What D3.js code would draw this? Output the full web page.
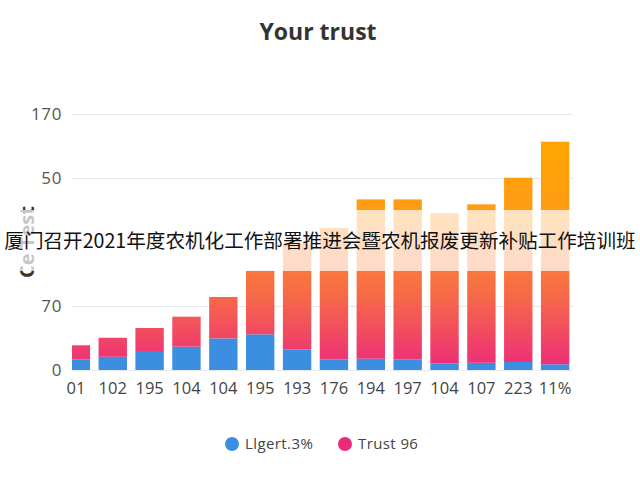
<!DOCTYPE html>
<html>
<head>
<meta charset="utf-8">
<script src="https://cdn.jsdelivr.net/npm/d3@7"></script>
<style>
  body { margin: 0; background: #fff; }
  svg { display: block; }
  text { font-family: "Open Sans", "DejaVu Sans", sans-serif; }
</style>
</head>
<body>
<svg id="chart" width="640" height="480"></svg>
<script>
// data
var xLabels = ["01", "102", "195", "104", "104", "195", "193", "176", "194", "197", "104", "107", "223", "11%"];
var lightValues = [7.1, 8.8, 12.0, 15.5, 21.0, 23.7, 13.7, 7.1, 7.5, 7.1, 4.4, 4.8, 5.3, 3.8];
var trustValues = [9.3, 12.6, 15.9, 19.9, 27.5, 42.2, 70.0, 87.2, 105.8, 106.2, 99.8, 105.2, 122.4, 147.8];
var yTicks = [0, 42.5, 85, 127.5, 170];
var yTickLabels = ["0", "70", "", "50", "170"];
var seriesNames = ["Llgert.3%", "Trust 96"];

drawChart();

function drawChart() {
    var margin = {top: 114, right: 67, bottom: 110, left: 72};
    var w = 640 - margin.left - margin.right;
    var h = 480 - margin.top - margin.bottom;

    var svg = d3.select("#chart");

    // rows for the stack
    var rows = xLabels.map(function(d, i) {
        return {idx: i, light: lightValues[i], trust: trustValues[i]};
    });
    var stacked = d3.stack().keys(["light", "trust"])(rows);

    var x = d3.scaleBand()
        .domain(d3.range(xLabels.length))
        .range([58, 573])
        .paddingInner(0.23)
        .paddingOuter(0.1);

    var y = d3.scaleLinear()
        .domain([0, 170])
        .range([margin.top + h, margin.top]);

    // gradient for the trust bars, running up the whole plot
    var defs = svg.append("defs");
    var grad = defs.append("linearGradient")
        .attr("id", "trustGrad")
        .attr("gradientUnits", "userSpaceOnUse")
        .attr("x1", 0).attr("x2", 0)
        .attr("y1", y(0)).attr("y2", y(155));
    grad.append("stop").attr("offset", "0").attr("stop-color", "#ec2a7c");
    grad.append("stop").attr("offset", "0.30").attr("stop-color", "#f6664a");
    grad.append("stop").attr("offset", "0.44").attr("stop-color", "#fa7a3a");
    grad.append("stop").attr("offset", "0.70").attr("stop-color", "#ff9c14");
    grad.append("stop").attr("offset", "1").attr("stop-color", "#ffa600");

    defs.append("clipPath").attr("id", "plotClip")
        .append("rect")
        .attr("x", margin.left).attr("y", 0)
        .attr("width", w).attr("height", margin.top + h);

    // y axis with gridlines
    var yAxis = svg.append("g")
        .attr("class", "yAxis")
        .attr("transform", "translate(" + margin.left + ",0)")
        .call(d3.axisLeft(y)
            .tickValues(yTicks)
            .tickFormat(function(d, i) { return yTickLabels[i]; })
            .tickSize(-w)
            .tickPadding(10));
    yAxis.select(".domain").remove();
    yAxis.selectAll("line").attr("stroke", "#e8e8ec");
    yAxis.selectAll("text")
        .attr("fill", "#555")
        .style("font-size", "17px")
        .style("letter-spacing", "0.6px");

    // bars
    var colors = ["#3b8ee0", "url(#trustGrad)"];
    svg.append("g")
        .attr("clip-path", "url(#plotClip)")
        .selectAll("g")
        .data(stacked)
        .enter()
        .append("g")
        .attr("fill", function(d, i) { return colors[i]; })
        .selectAll("rect")
        .data(function(d) { return d; })
        .enter()
        .append("rect")
        .attr("x", function(d) { return x(d.data.idx); })
        .attr("y", function(d) { return y(d[1]); })
        .attr("height", function(d) { return y(d[0]) - y(d[1]); })
        .attr("width", x.bandwidth());

    // x axis labels
    var xAxis = svg.append("g")
        .attr("class", "xAxis")
        .attr("transform", "translate(0," + (margin.top + h) + ")")
        .call(d3.axisBottom(x)
            .tickSize(0)
            .tickPadding(12)
            .tickFormat(function(i) { return xLabels[i]; }));
    xAxis.select(".domain").remove();
    xAxis.selectAll("text")
        .attr("fill", "#444")
        .style("font-size", "16.5px");

    // title and y label
    svg.append("text")
        .attr("x", 318)
        .attr("y", 40)
        .attr("text-anchor", "middle")
        .attr("fill", "#333")
        .style("font-size", "23px")
        .style("font-weight", "bold")
        .text("Your trust");

    svg.append("text")
        .attr("transform", "translate(34,242) rotate(-90)")
        .attr("text-anchor", "middle")
        .attr("fill", "#333")
        .style("font-size", "20px")
        .style("font-weight", "bold")
        .text("Ce Test");

    // pale band with the banner text over it
    svg.append("rect")
        .attr("x", 0).attr("y", 210)
        .attr("width", 640).attr("height", 61)
        .attr("fill", "#fff")
        .attr("opacity", 0.72);

    svg.append("text")
        .attr("x", 320)
        .attr("y", 248)
        .attr("text-anchor", "middle")
        .attr("fill", "#111")
        .style("font-family", "'Noto Sans CJK SC', sans-serif")
        .style("font-size", "19.6px")
        .text("厦门召开2021年度农机化工作部署推进会暨农机报废更新补贴工作培训班");

    // legend
    var legendColors = ["#3b8ee0", "#ec2a7c"];
    var legendX = [232, 345];
    var legend = svg.append("g").selectAll("g")
        .data(seriesNames)
        .enter()
        .append("g")
        .attr("transform", function(d, i) { return "translate(" + legendX[i] + ",444)"; });
    legend.append("circle")
        .attr("r", 7)
        .attr("fill", function(d, i) { return legendColors[i]; });
    legend.append("text")
        .attr("x", 13)
        .attr("y", 5)
        .attr("fill", "#444")
        .style("font-size", "15px")
        .style("letter-spacing", "0.4px")
        .text(function(d) { return d; });
}
</script>
</body>
</html>
